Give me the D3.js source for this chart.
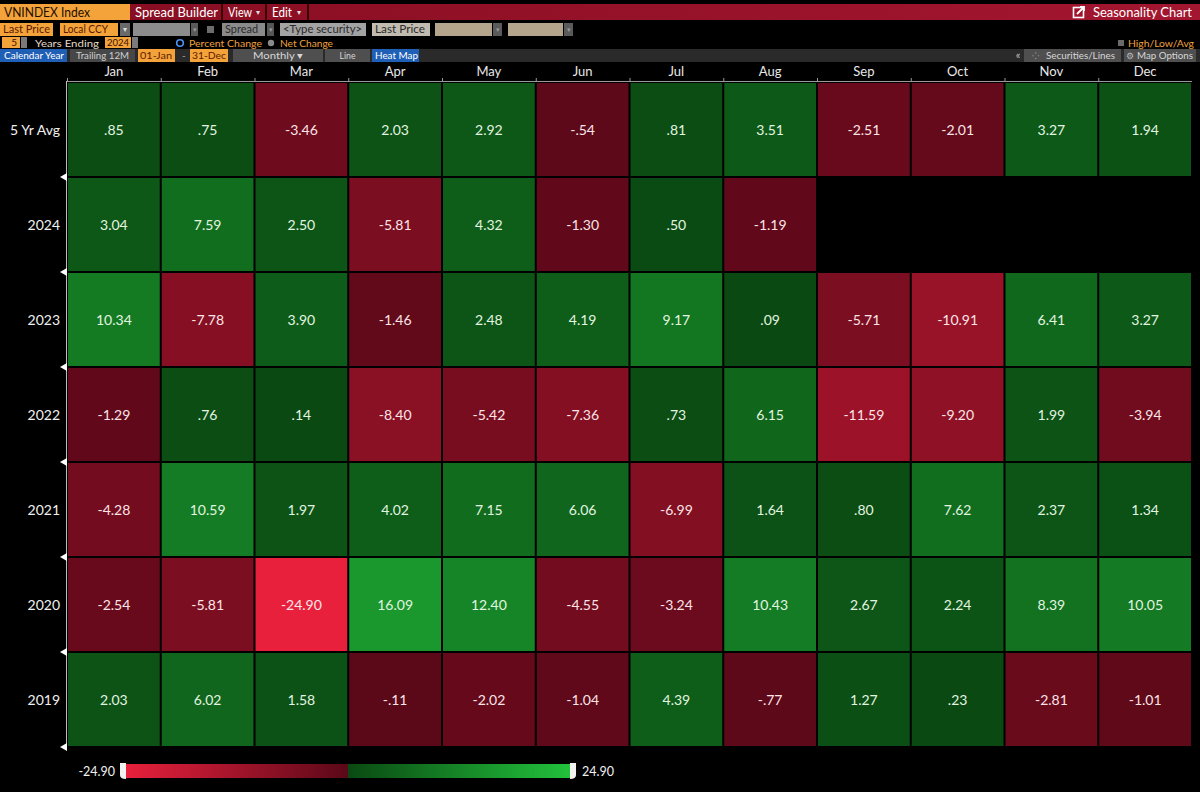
<!DOCTYPE html>
<html>
<head>
<meta charset="utf-8">
<script src="https://cdn.jsdelivr.net/npm/d3@7"></script>
<style>
body { margin: 0; background: #000; overflow: hidden; }
text { font-family: Lato, "Open Sans", sans-serif; }
</style>
</head>
<body>
<svg id="chart"></svg>
<script>
// months across the top, rows down the side
const months = ["Jan", "Feb", "Mar", "Apr", "May", "Jun", "Jul", "Aug", "Sep", "Oct", "Nov", "Dec"];
const rowLabels = ["5 Yr Avg", "2024", "2023", "2022", "2021", "2020", "2019"];

// monthly % change, VNINDEX
const avg5  = [0.85, 0.75, -3.46, 2.03, 2.92, -0.54, 0.81, 3.51, -2.51, -2.01, 3.27, 1.94];
const y2024 = [3.04, 7.59, 2.50, -5.81, 4.32, -1.30, 0.50, -1.19, null, null, null, null];
const y2023 = [10.34, -7.78, 3.90, -1.46, 2.48, 4.19, 9.17, 0.09, -5.71, -10.91, 6.41, 3.27];
const y2022 = [-1.29, 0.76, 0.14, -8.40, -5.42, -7.36, 0.73, 6.15, -11.59, -9.20, 1.99, -3.94];
const y2021 = [-4.28, 10.59, 1.97, 4.02, 7.15, 6.06, -6.99, 1.64, 0.80, 7.62, 2.37, 1.34];
const y2020 = [-2.54, -5.81, -24.90, 16.09, 12.40, -4.55, -3.24, 10.43, 2.67, 2.24, 8.39, 10.05];
const y2019 = [2.03, 6.02, 1.58, -0.11, -2.02, -1.04, 4.39, -0.77, 1.27, 0.23, -2.81, -1.01];
const series = [avg5, y2024, y2023, y2022, y2021, y2020, y2019];

const legendMin = -24.90;
const legendMax = 24.90;

const width = 1200;
const height = 792;

const svg = d3.select('#chart')
	.attr('width', width)
	.attr('height', height)
	.style('background', '#000');

const defs = svg.append('defs');

// ---------- toolbar (bloomberg style header) ----------
const orange = '#f4a33a';

const barGrad = defs.append('linearGradient').attr('id', 'redbar');
barGrad.append('stop').attr('offset', '0%').attr('stop-color', '#860d21');
barGrad.append('stop').attr('offset', '100%').attr('stop-color', '#a3162f');

function addText(x, y, str, color, opts = {}) {
	const t = svg.append('text')
		.attr('x', x).attr('y', y).attr('dy', '0.36em')
		.attr('text-anchor', opts.anchor || 'start')
		.attr('font-size', opts.size || 10.5)
		.attr('fill', color)
		.text(str);
	// bloomberg font is narrow, squeeze to the measured width
	if (opts.fit) t.attr('textLength', opts.fit).attr('lengthAdjust', 'spacingAndGlyphs');
	return t;
}
function box(x, y, w, h, fill, str, color, opts = {}) {
	svg.append('rect')
		.attr('x', x).attr('y', y).attr('width', w).attr('height', h)
		.attr('fill', fill);
	if (str) {
		const tx = opts.anchor == 'middle' ? x + w / 2 : opts.anchor == 'end' ? x + w - 3 : x + (opts.pad || 3);
		addText(tx, y + h / 2, str, color, opts);
	}
}

// red title bar
box(0, 4, width, 16, 'url(#redbar)');
box(0, 4, 130, 16, orange, 'VNINDEX Index', '#1c0d00', {size: 13.5, fit: 86, pad: 4});
addText(135, 12, 'Spread Builder', '#fff', {size: 13.5, fit: 83});
[222, 266, 308].forEach(x => svg.append('line')
	.attr('x1', x).attr('x2', x).attr('y1', 4).attr('y2', 20)
	.attr('stroke', '#3a0008').attr('stroke-width', 2));
addText(228, 12, 'View', '#fff', {size: 13.5, fit: 24});
addText(256, 12, '▾', '#ddd', {size: 8});
addText(272, 12, 'Edit', '#fff', {size: 13.5, fit: 20});
addText(297, 12, '▾', '#ddd', {size: 8});
// little external-link icon
svg.append('rect').attr('x', 1073.5).attr('y', 7.5).attr('width', 10).attr('height', 10)
	.attr('fill', 'none').attr('stroke', '#fff').attr('stroke-width', 1.6);
svg.append('path').attr('d', 'M1077,14 L1084,7 M1080,7 L1084,7 L1084,11')
	.attr('stroke', '#fff').attr('stroke-width', 1.8).attr('fill', 'none');
addText(1093, 12, 'Seasonality Chart', '#fff', {size: 13.5, fit: 99});

// second row
box(0, 23, 53, 13, orange, 'Last Price', '#5c1a00', {fit: 47});
box(60, 23, 58, 13, orange, 'Local CCY', '#5c1a00', {fit: 45});
box(120, 23, 10, 13, '#6a6a6a', '▾', '#ddd', {size: 8, anchor: 'middle'});
box(133, 23, 57, 13, '#8c8c8c');
box(191, 23, 7, 13, '#5a5a5a', '▾', '#999', {size: 7, anchor: 'middle'});
box(207, 26, 7, 7, '#6d6d6d');
box(222, 23, 43, 13, '#8a8a8a', 'Spread', '#2a2a2a', {fit: 33});
box(267, 23, 7, 13, '#555', '▾', '#999', {size: 7, anchor: 'middle'});
box(280, 23, 86, 13, '#a3a3a3', '<Type security>', '#2a2a2a', {fit: 79});
box(372, 23, 58, 13, '#c2bcb0', 'Last Price', '#2a2a2a', {fit: 50});
box(435, 23, 57, 13, '#b5a58c');
box(493, 23, 9, 13, '#5a5a5a', '▾', '#999', {size: 7, anchor: 'middle'});
box(508, 23, 55, 13, '#b5a58c');
box(564, 23, 9, 13, '#5a5a5a', '▾', '#999', {size: 7, anchor: 'middle'});

// third row
box(2, 37, 18, 11, orange, '5', '#3a1000', {anchor: 'end', size: 10});
box(21, 37, 6, 11, '#7a7a7a');
addText(35, 43, 'Years  Ending', '#e6dccc', {fit: 64, size: 10});
box(105, 37, 26, 11, orange, '2024', '#3a1000', {fit: 22, pad: 2, size: 10});
box(132, 37, 6, 11, '#7a7a7a');
svg.append('circle').attr('cx', 180).attr('cy', 43).attr('r', 3.3)
	.attr('fill', '#000').attr('stroke', '#4d93f5').attr('stroke-width', 1.6);
addText(189, 43, 'Percent Change', '#f0a23e', {fit: 73, size: 10});
svg.append('circle').attr('cx', 271).attr('cy', 43).attr('r', 3.2).attr('fill', '#8a8a8a');
addText(280, 43, 'Net Change', '#f0a23e', {fit: 53, size: 10});
box(1118, 40, 6, 6, '#6a6a6a');
addText(1128, 43, 'High/Low/Avg', '#f0a23e', {fit: 66, size: 10});

// fourth row
box(0, 49, width, 13, '#2a2a2a');
box(0, 49, 67, 13, '#1f5fb5', 'Calendar Year', '#fff', {fit: 60, pad: 4, size: 10});
box(70, 49, 65, 13, '#474747', 'Trailing 12M', '#cfcfcf', {fit: 53, pad: 6, size: 10});
box(138, 49, 37, 13, orange, '01-Jan', '#5c1a00', {fit: 32, pad: 2, size: 10});
addText(182, 55.5, '-', '#aaa', {size: 10});
box(190, 49, 38, 13, orange, '31-Dec', '#5c1a00', {fit: 34, pad: 2, size: 10});
box(233, 49, 90, 13, '#4f4f4f', 'Monthly ▾', '#d6d6d6', {anchor: 'middle', fit: 50, size: 10});
box(325, 49, 45, 13, '#4f4f4f', 'Line', '#d6d6d6', {anchor: 'middle', fit: 16, size: 10});
box(372, 49, 47, 13, '#1f5fb5', 'Heat Map', '#fff', {fit: 43, size: 10});
addText(1018, 55.5, '«', '#bbb', {size: 11, anchor: 'middle'});
box(1024, 49, 97, 13, '#4f4f4f');
addText(1035, 55.5, '⁘', '#bbb', {size: 9, anchor: 'middle'});
addText(1046, 55.5, 'Securities/Lines', '#d6d6d6', {fit: 69, size: 10});
box(1124, 49, 72, 13, '#4f4f4f');
addText(1130, 55.5, '⚙', '#bbb', {size: 9, anchor: 'middle'});
addText(1137, 55.5, 'Map Options', '#d6d6d6', {fit: 56, size: 10});

// ---------- heat map ----------
const x = d3.scaleBand().domain(months).range([67, 1192]);
const y = d3.scaleBand().domain(rowLabels).range([82, 747]);

const green = d3.scaleLinear().domain([0, legendMax]).range(['#0a4912', '#22c23c']);
const red = d3.scaleLinear().domain([0, legendMin]).range(['#5a0818', '#e8203c']);
const color = v => v >= 0 ? green(v) : red(v);

// bloomberg style: no leading zero, plain hyphen minus
const fmt = v => d3.format('.2f')(v).replace('−', '-').replace(/^(-?)0\./, '$1.');

let cells = [];
rowLabels.forEach((r, i) => {
	months.forEach((m, j) => {
		cells.push({row: r, month: m, value: series[i][j]});
	});
});

const g = svg.append('g');

g.selectAll('rect.cell')
	.data(cells)
	.join('rect')
		.attr('class', 'cell')
		.attr('x', d => x(d.month) + 1)
		.attr('y', d => y(d.row) + 1)
		.attr('width', x.bandwidth() - 2)
		.attr('height', y.bandwidth() - 2)
		.attr('fill', d => d.value == null ? '#000' : color(d.value));

g.selectAll('text.val')
	.data(cells.filter(d => d.value != null))
	.join('text')
		.attr('class', 'val')
		.attr('x', d => x(d.month) + x.bandwidth() / 2)
		.attr('y', d => y(d.row) + y.bandwidth() / 2)
		.attr('dy', '0.36em')
		.attr('text-anchor', 'middle')
		.attr('font-size', 14)
		.attr('fill', d => d.value >= 0 ? '#e2f5e0' : '#fbe4e8')
		.text(d => fmt(d.value));

// month header
svg.selectAll('text.month')
	.data(months)
	.join('text')
		.attr('class', 'month')
		.attr('x', d => x(d) + x.bandwidth() / 2)
		.attr('y', 71)
		.attr('dy', '0.36em')
		.attr('text-anchor', 'middle')
		.attr('font-size', 13)
		.attr('fill', '#e8e8e8')
		.text(d => d);

svg.append('line')
	.attr('x1', 67).attr('x2', 1192).attr('y1', 81.5).attr('y2', 81.5)
	.attr('stroke', '#9a9a9a');
svg.selectAll('line.mtick')
	.data(months)
	.join('line')
		.attr('class', 'mtick')
		.attr('x1', d => x(d) + 0.5).attr('x2', d => x(d) + 0.5)
		.attr('y1', 78).attr('y2', 82)
		.attr('stroke', '#9a9a9a');

// row labels + left axis
svg.selectAll('text.rowlab')
	.data(rowLabels)
	.join('text')
		.attr('class', 'rowlab')
		.attr('x', 60)
		.attr('y', d => y(d) + y.bandwidth() / 2)
		.attr('dy', '0.36em')
		.attr('text-anchor', 'end')
		.attr('font-size', 14)
		.attr('fill', '#f0f0f0')
		.text(d => d);

svg.append('line')
	.attr('x1', 66.5).attr('x2', 66.5).attr('y1', 81).attr('y2', 748)
	.attr('stroke', '#bdbdbd');

svg.selectAll('path.rowmark')
	.data(rowLabels)
	.join('path')
		.attr('class', 'rowmark')
		.attr('d', d => {
			const yb = y(d) + y.bandwidth();
			return `M60,${yb} L67,${yb - 4} L67,${yb + 4} Z`;
		})
		.attr('fill', '#fff');

// ---------- legend ----------
const lx = d3.scaleLinear().domain([legendMin, legendMax]).range([126, 570]);
const ly = 764, lh = 14;

const redGrad = defs.append('linearGradient').attr('id', 'lgRed');
redGrad.append('stop').attr('offset', '0%').attr('stop-color', red(legendMin));
redGrad.append('stop').attr('offset', '100%').attr('stop-color', red(0));
const greenGrad = defs.append('linearGradient').attr('id', 'lgGreen');
greenGrad.append('stop').attr('offset', '0%').attr('stop-color', green(0));
greenGrad.append('stop').attr('offset', '100%').attr('stop-color', green(legendMax));

svg.append('rect')
	.attr('x', lx(legendMin)).attr('y', ly)
	.attr('width', lx(0) - lx(legendMin)).attr('height', lh)
	.attr('fill', 'url(#lgRed)');
svg.append('rect')
	.attr('x', lx(0)).attr('y', ly)
	.attr('width', lx(legendMax) - lx(0)).attr('height', lh)
	.attr('fill', 'url(#lgGreen)');

// slider handles
svg.append('path')
	.attr('d', `M${lx(legendMin)},${ly - 1} L${lx(legendMin) - 6},${ly - 1} L${lx(legendMin) - 6},${ly + lh - 3} Q${lx(legendMin) - 6},${ly + lh + 1} ${lx(legendMin)},${ly + lh + 1} Z`)
	.attr('fill', '#f2f2f2');
svg.append('path')
	.attr('d', `M${lx(legendMax)},${ly - 1} L${lx(legendMax) + 6},${ly - 1} L${lx(legendMax) + 6},${ly + lh - 3} Q${lx(legendMax) + 6},${ly + lh + 1} ${lx(legendMax)},${ly + lh + 1} Z`)
	.attr('fill', '#f2f2f2');

addText(lx(legendMin) - 11, ly + lh / 2, fmt(legendMin), '#f0f0f0', {size: 12.5, anchor: 'end'});
addText(lx(legendMax) + 12, ly + lh / 2, fmt(legendMax), '#f0f0f0', {size: 12.5});
</script>
</body>
</html>
